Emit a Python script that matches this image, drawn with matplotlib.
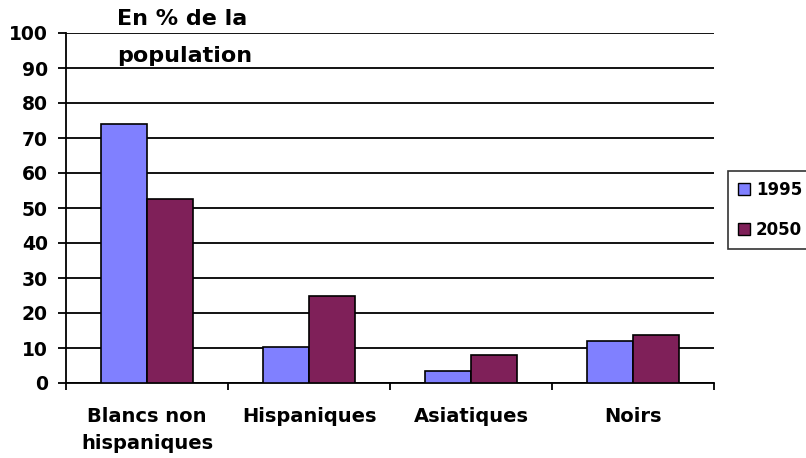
import matplotlib.pyplot as plt
import numpy as np
from matplotlib.patches import Patch

categories = ['Blancs non\nhispaniques', 'Hispaniques', 'Asiatiques', 'Noirs']
series = ['1995', '2050']
values_1995 = [74, 10.2, 3.3, 12]
values_2050 = [52.6, 24.8, 7.9, 13.7]
colors = ['#8080ff', '#7f2059']

plt.rcParams['font.family'] = ['DejaVu Sans']
plt.rcParams['font.weight'] = 'bold'

W, H = 806, 458
fig = plt.figure(figsize=(W / 100, H / 100), dpi=100)
ax = fig.add_axes([66 / W, (H - 383) / H, 648 / W, 350 / H])

x = np.arange(len(categories))
w = 46 / 162
ax.bar(x - w / 2, values_1995, w, color=colors[0], edgecolor='black', linewidth=1.2, zorder=3)
ax.bar(x + w / 2, values_2050, w, color=colors[1], edgecolor='black', linewidth=1.2, zorder=3)

ax.set_xlim(-0.5, len(categories) - 0.5)
ax.set_ylim(0, 100)
ax.set_yticks(np.arange(0, 101, 10))
ax.yaxis.grid(True, color='black', linewidth=1.3, zorder=0)
ax.set_axisbelow(True)

# category ticks sit on the boundaries, labels centred between them
ax.set_xticks(np.arange(-0.5, len(categories), 1))
ax.set_xticklabels([])
ax.set_xticks(x, minor=True)
ax.set_xticklabels(categories, minor=True, fontsize=14, fontweight='bold', linespacing=1.55)
ax.tick_params(axis='x', which='minor', length=0, pad=17)
ax.tick_params(axis='x', which='major', length=5, width=1.3, direction='out')
ax.tick_params(axis='y', length=6, width=1.3, pad=7, labelsize=13.5)
for lab in ax.get_yticklabels():
    lab.set_fontweight('bold')

for s in ['top', 'right']:
    ax.spines[s].set_visible(False)
ax.spines['left'].set_linewidth(1.3)
ax.spines['bottom'].set_linewidth(1.3)

fig.text(117 / W, 1 - 9 / H, 'En % de la\npopulation', ha='left', va='top',
         fontsize=16, fontweight='bold', linespacing=2.05)

handles = [Patch(facecolor=c, edgecolor='black', linewidth=1) for c in colors]
leg = fig.legend(handles, series, loc='upper left', bbox_to_anchor=(728 / W, 1 - 171 / H),
                 frameon=True, fancybox=False, edgecolor='black', fontsize=12,
                 handlelength=0.72, handleheight=0.72, handletextpad=0.35,
                 borderpad=0.6, labelspacing=1.3, borderaxespad=0)
leg.get_frame().set_linewidth(1.2)
for t in leg.get_texts():
    t.set_fontweight('bold')

fig.savefig('out.png', dpi=100)
